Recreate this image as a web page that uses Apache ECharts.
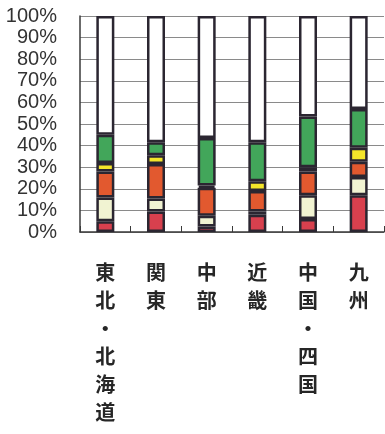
<!DOCTYPE html>
<html>
<head>
<meta charset="utf-8">
<script src="https://cdn.jsdelivr.net/npm/echarts@6/dist/echarts.min.js"></script>
<style>
  html, body { margin: 0; padding: 0; background: #fff; }
  #chart { width: 385px; height: 434px; }
</style>
</head>
<body>
<div id="chart"></div>
<script>
// Regions along the x axis
const regions = ['東北・北海道', '関東', '中部', '近畿', '中国・四国', '九州'];

// Share of each band per region (percent, stacked bottom to top)
const redShare    = [5.0, 9.5, 2.5, 8.0, 6.0, 17.0];
const creamShare  = [11.0, 6.0, 5.0, 1.5, 11.0, 8.5];
const orangeShare = [12.0, 16.0, 13.0, 9.5, 11.0, 7.0];
const yellowShare = [4.0, 4.0, 1.0, 4.5, 2.0, 6.5];
const greenShare  = [13.0, 6.0, 22.0, 18.0, 23.5, 18.0];
const whiteShare  = [55.0, 58.5, 56.5, 58.5, 46.5, 43.0];

// Y axis tick values
const yTicks = [0, 10, 20, 30, 40, 50, 60, 70, 80, 90, 100];

const bands = [
  { name: 'red',    data: redShare,    color: '#d8404e' },
  { name: 'cream',  data: creamShare,  color: '#f1f3d2' },
  { name: 'orange', data: orangeShare, color: '#e2592f' },
  { name: 'yellow', data: yellowShare, color: '#f4e52a' },
  { name: 'green',  data: greenShare,  color: '#42a65a' },
  { name: 'white',  data: whiteShare,  color: '#ffffff' }
];

const chart = echarts.init(document.getElementById('chart'), null, { renderer: 'canvas' });

chart.setOption({
  backgroundColor: '#ffffff',
  animation: false,
  grid: { left: 80, right: 1, top: 16, bottom: 202 },
  xAxis: {
    type: 'category',
    data: regions,
    boundaryGap: true,
    axisLine: { show: true, lineStyle: { color: '#3a3a3a', width: 1.5 } },
    axisTick: { show: true, inside: true, length: 6, lineStyle: { color: '#3a3a3a', width: 1 } },
    axisLabel: {
      interval: 0,
      margin: 26,
      color: '#262626',
      fontFamily: 'Noto Sans CJK JP',
      fontWeight: 'bold',
      fontSize: 20,
      lineHeight: 28,
      formatter: v => v.split('').join('\n')
    }
  },
  yAxis: {
    type: 'value',
    min: yTicks[0],
    max: yTicks[yTicks.length - 1],
    interval: 10,
    axisLine: { show: true, lineStyle: { color: '#3a3a3a', width: 1.5 } },
    axisTick: { show: false },
    splitLine: { show: true, lineStyle: { color: '#8a8a8a', width: 1 } },
    axisLabel: {
      margin: 23,
      color: '#333333',
      fontFamily: 'Liberation Sans',
      fontSize: 20,
      formatter: '{value}%'
    }
  },
  series: bands.map(b => ({
    name: b.name,
    type: 'bar',
    stack: 'share',
    barWidth: 18,
    data: b.data,
    itemStyle: { color: b.color, borderColor: '#2b2631', borderWidth: 2.5 }
  }))
});
</script>
</body>
</html>
